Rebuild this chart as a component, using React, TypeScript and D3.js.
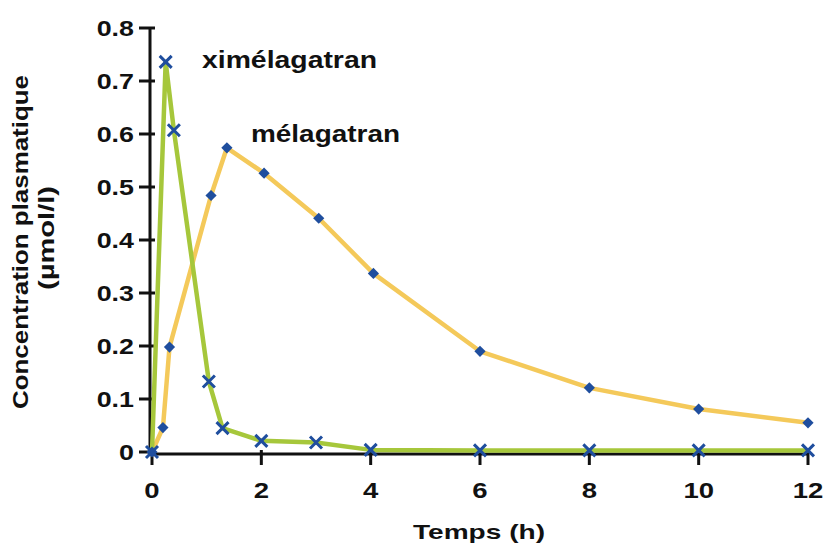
import React from 'react';
import * as d3 from 'd3';

// time points (h) and plasma concentrations (µmol/l)
const ximeTimes = [0, 0.25, 0.4, 1.04, 1.29, 2, 3, 4, 6, 8, 10, 12];
const ximeValues = [0, 0.736, 0.607, 0.133, 0.045, 0.021, 0.018, 0.004, 0.003, 0.003, 0.003, 0.003];
const melaTimes = [0, 0.2, 0.32, 1.08, 1.37, 2.05, 3.05, 4.05, 6, 8, 10, 12];
const melaValues = [0, 0.046, 0.198, 0.484, 0.574, 0.526, 0.441, 0.337, 0.19, 0.121, 0.081, 0.055];

const xTicks = [0, 2, 4, 6, 8, 10, 12];
const yTicks = [0, 0.1, 0.2, 0.3, 0.4, 0.5, 0.6, 0.7, 0.8];

const W = 824;
const H = 549;
const FONT = '"Liberation Sans", Arial, sans-serif';

const GREEN = '#a6c73b';
const YELLOW = '#f4c95a';
const BLUE = '#1f4e9e';

type Pt = [number, number];

const App: React.FC = () => {
  const x = d3.scaleLinear().domain([0, 12]).range([152, 808]);
  const y = d3.scaleLinear().domain([0, 0.8]).range([452, 28]);

  const xime: Pt[] = ximeTimes.map((t, i) => [t, ximeValues[i]]);
  const mela: Pt[] = melaTimes.map((t, i) => [t, melaValues[i]]);

  const line = d3.line<Pt>().x(d => x(d[0])).y(d => y(d[1]));
  const diamond = d3.symbol().type(d3.symbolDiamond2).size(80)();

  const axisY = 454;
  const axisX = 150;

  return (
    <svg width={W} height={H} style={{ position: 'absolute', left: 0, top: 0, background: '#fff' }}
      fontFamily={FONT} fontWeight="bold">
      {/* axes */}
      <line x1={axisX} x2={axisX} y1={y(0.8)} y2={axisY + 1} stroke="#111" strokeWidth={3} />
      <line x1={axisX} x2={x(12)} y1={axisY} y2={axisY} stroke="#111" strokeWidth={3} />
      {yTicks.map(v => (
        <g key={'y' + v}>
          <line x1={axisX - 11} x2={axisX + 5} y1={y(v)} y2={y(v)} stroke="#111" strokeWidth={3} />
          <text transform={`translate(134,${y(v) + 8}) scale(1.22,1)`} textAnchor="end" fontSize={22} fill="#111">
            {v === 0 ? '0' : d3.format('.1f')(v)}
          </text>
        </g>
      ))}
      {xTicks.map(v => (
        <g key={'x' + v}>
          <line x1={x(v)} x2={x(v)} y1={axisY - 4} y2={axisY + 11} stroke="#111" strokeWidth={3} />
          <text transform={`translate(${x(v)},498) scale(1.25,1)`} textAnchor="middle" fontSize={22} fill="#111">{v}</text>
        </g>
      ))}

      {/* axis titles */}
      <text x={479} y={539} textAnchor="middle" fontSize={21} textLength={132} lengthAdjust="spacingAndGlyphs" fill="#111">
        Temps (h)
      </text>
      <text transform="translate(28,242) rotate(-90)" textAnchor="middle" fontSize={22} textLength={334}
        lengthAdjust="spacingAndGlyphs" fill="#111">
        Concentration plasmatique
      </text>
      <text transform="translate(54,238) rotate(-90)" textAnchor="middle" fontSize={22} textLength={104}
        lengthAdjust="spacingAndGlyphs" fill="#111">
        (µmol/l)
      </text>

      {/* series */}
      <path d={line(mela) || ''} fill="none" stroke={YELLOW} strokeWidth={4.5} strokeLinejoin="round" />
      <path d={line(xime) || ''} fill="none" stroke={GREEN} strokeWidth={4.5} strokeLinejoin="round" />
      {mela.map((d, i) => (
        <path key={'m' + i} d={diamond || ''} transform={`translate(${x(d[0])},${y(d[1])})`} fill={BLUE} />
      ))}
      {xime.map((d, i) => {
        const cx = x(d[0]);
        const cy = y(d[1]);
        const r = 6;
        return (
          <path key={'x' + i} d={`M${cx - r},${cy - r}L${cx + r},${cy + r}M${cx - r},${cy + r}L${cx + r},${cy - r}`}
            stroke={BLUE} strokeWidth={3} fill="none" />
        );
      })}

      {/* series labels */}
      <text x={202} y={68} fontSize={23} textLength={175} lengthAdjust="spacingAndGlyphs" fill="#111">ximélagatran</text>
      <text x={251} y={142} fontSize={23} textLength={149} lengthAdjust="spacingAndGlyphs" fill="#111">mélagatran</text>
    </svg>
  );
};

export default App;
